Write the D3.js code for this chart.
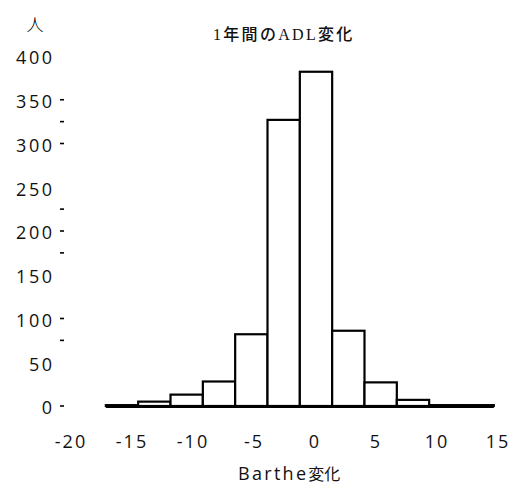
<!DOCTYPE html>
<html>
<head>
<meta charset="utf-8">
<script src="https://cdn.jsdelivr.net/npm/d3@7/dist/d3.min.js"></script>
<style>
  html, body { margin: 0; padding: 0; background: #fff; }
  svg { display: block; }
  .num { font-family: "Open Sans", "DejaVu Sans", sans-serif; font-size: 18px; fill: #111; }
</style>
</head>
<body>
<svg id="chart" width="511" height="486"></svg>
<script>
// Histogram of one-year change in Barthel score
const binCenters = [-15.9, -13.25, -10.6, -7.95, -5.3, -2.65, 0, 2.65, 5.3, 7.95, 10.6, 13.25];
const binWidth = 2.65;
const counts = [1, 5, 13, 28, 82, 327, 382, 86, 27, 7, 1, 1];
const xTicks = [-20, -15, -10, -5, 0, 5, 10, 15];
const yTicks = [0, 50, 100, 150, 200, 250, 300, 350, 400];
const yMarks = [0, 75, 100, 175, 200, 225, 300, 325, 350];

const svg = d3.select("#chart");

const x = d3.scaleLinear().domain([-20, 15]).range([72, 499]);
const y = d3.scaleLinear().domain([0, 400]).range([406, 56]);

const bins = binCenters.map((c, i) => ({ x0: c - binWidth / 2, x1: c + binWidth / 2, n: counts[i] }));

// bars
svg.append("g")
  .selectAll("rect")
  .data(bins)
  .join("rect")
  .attr("x", d => x(d.x0))
  .attr("y", d => y(d.n))
  .attr("width", d => x(d.x1) - x(d.x0))
  .attr("height", d => y(0) - y(d.n))
  .attr("fill", "#fff")
  .attr("stroke", "#000")
  .attr("stroke-width", 2.2);

// baseline under the bars
svg.append("line")
  .attr("x1", x(bins[0].x0))
  .attr("x2", x(bins[bins.length - 1].x1))
  .attr("y1", y(0) + 0.5)
  .attr("y2", y(0) + 0.5)
  .attr("stroke", "#000")
  .attr("stroke-width", 3);

// y axis: labels and short dash marks, no axis line
const yAxis = svg.append("g");
yAxis.selectAll("text")
  .data(yTicks)
  .join("text")
  .attr("class", "num")
  .attr("letter-spacing", "2.5px")
  .attr("x", 54.5)
  .attr("y", d => y(d) + 2)
  .attr("dy", "0.36em")
  .attr("text-anchor", "end")
  .text(d => d);
yAxis.selectAll("line")
  .data(yMarks)
  .join("line")
  .attr("x1", 60)
  .attr("x2", 64)
  .attr("y1", d => y(d))
  .attr("y2", d => y(d))
  .attr("stroke", "#000")
  .attr("stroke-width", 1.6);

// x axis labels
svg.append("g")
  .selectAll("text")
  .data(xTicks)
  .join("text")
  .attr("class", "num")
  .attr("letter-spacing", "2px")
  .attr("x", d => x(d) - 1)
  .attr("y", 448)
  .attr("text-anchor", "middle")
  .text(d => d);

// unit label on y axis
svg.append("text")
  .attr("x", 35)
  .attr("y", 31)
  .attr("text-anchor", "middle")
  .attr("font-family", "'Noto Sans CJK JP', sans-serif")
  .attr("font-size", 17)
  .attr("font-weight", 300)
  .text("人");

// title
svg.append("text")
  .attr("x", 213)
  .attr("y", 40)
  .attr("font-family", "'Liberation Serif', 'Noto Sans CJK JP', serif")
  .attr("font-size", 16)
  .attr("font-weight", 500)
  .attr("letter-spacing", "2.3px")
  .attr("fill", "#111")
  .text("1年間のADL変化");

// x axis title
const xt = svg.append("text")
  .attr("x", 238)
  .attr("y", 480)
  .attr("fill", "#111");
xt.append("tspan")
  .attr("font-family", "'Open Sans', sans-serif")
  .attr("font-size", 18)
  .attr("letter-spacing", "2.3px")
  .text("Barthe");
xt.append("tspan")
  .attr("font-family", "'Noto Sans CJK JP', sans-serif")
  .attr("font-size", 16)
  .text("変化");
</script>
</body>
</html>
